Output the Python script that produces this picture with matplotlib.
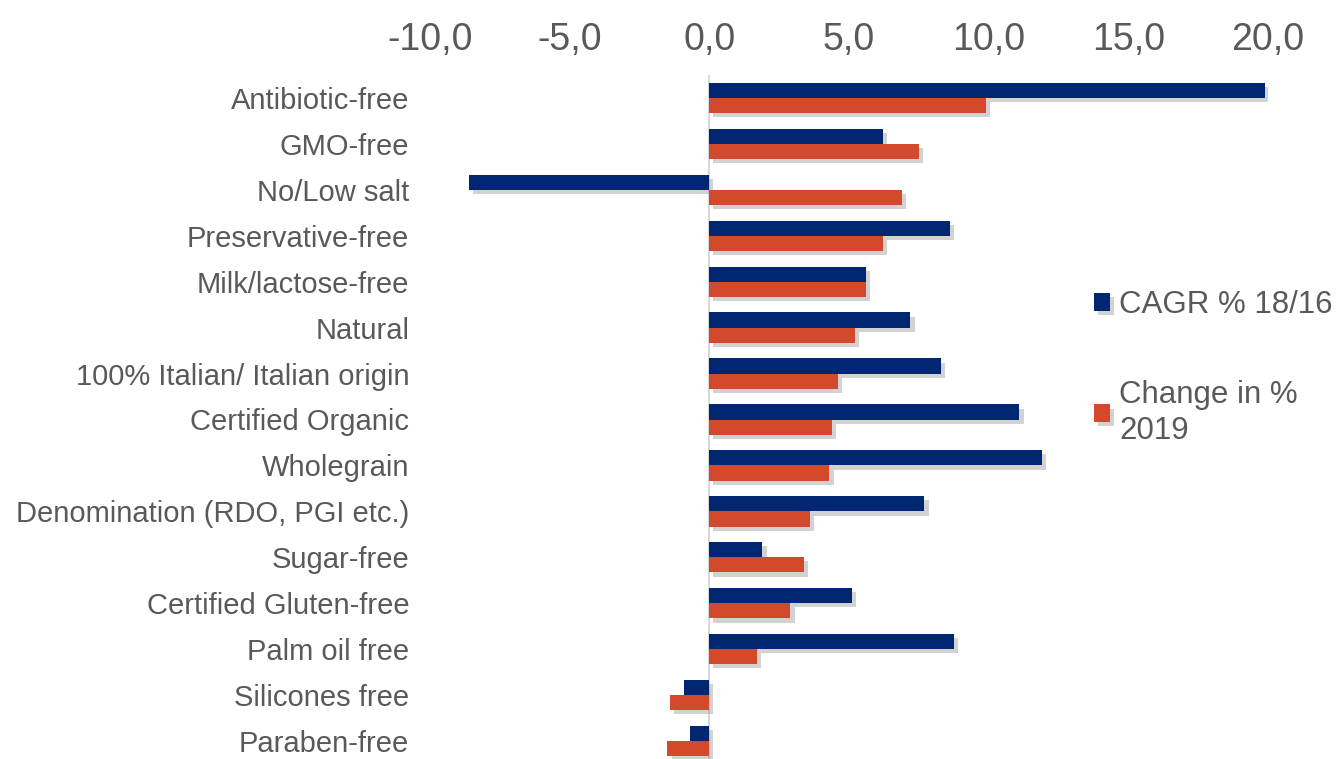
import numpy as np
import matplotlib.pyplot as plt
import matplotlib.patheffects as pe
from matplotlib.ticker import FuncFormatter

categories = ['Antibiotic-free', 'GMO-free', 'No/Low salt', 'Preservative-free',
              'Milk/lactose-free', 'Natural', '100% Italian/ Italian origin',
              'Certified Organic', 'Wholegrain', 'Denomination (RDO, PGI etc.)',
              'Sugar-free', 'Certified Gluten-free', 'Palm oil free',
              'Silicones free', 'Paraben-free']
cagr = [19.9, 6.2, -8.6, 8.6, 5.6, 7.2, 8.3, 11.1, 11.9, 7.7, 1.9, 5.1, 8.75, -0.9, -0.7]
change = [9.9, 7.5, 6.9, 6.2, 5.6, 5.2, 4.6, 4.4, 4.3, 3.6, 3.4, 2.9, 1.7, -1.4, -1.5]
xticks = [-10, -5, 0, 5, 10, 15, 20]

navy = '#002672'
red = '#D24A2B'
grey = '#595959'

fig = plt.figure(figsize=(13.37, 7.59), dpi=100)
ax = fig.add_axes([430 / 1337, -5 / 759, 838 / 1337, 689 / 759])

y = np.arange(len(categories))
h = 0.33
shadow = [pe.SimplePatchShadow(offset=(3, -3), shadow_rgbFace='#909090', alpha=0.4), pe.Normal()]
b1 = ax.barh(y - h / 2, cagr, height=h, color=navy, label='CAGR % 18/16', zorder=3)
b2 = ax.barh(y + h / 2, change, height=h, color=red, label='Change in %\n2019', zorder=3)
for b in list(b1) + list(b2):
    b.set_path_effects(shadow)

ax.axvline(0, color='#d9d9d9', lw=1.5, zorder=2)
ax.set_xlim(-10, 20)
ax.set_ylim(len(categories) - 0.5, -0.5)
ax.set_yticks(y)
ax.set_yticklabels(categories, fontsize=21, color=grey, family=['Liberation Sans', 'DejaVu Sans'])
ax.set_xticks(xticks)
ax.xaxis.set_major_formatter(FuncFormatter(lambda v, p: f'{v:.1f}'.replace('.', ',')))
ax.xaxis.tick_top()
for lab in ax.get_xticklabels():
    lab.set_fontsize(27)
    lab.set_color(grey)
    lab.set_family(['Liberation Sans Narrow', 'Liberation Sans', 'DejaVu Sans'])
ax.tick_params(length=0, axis='both')
ax.tick_params(axis='x', pad=12)
ax.tick_params(axis='y', pad=15)
for s in ax.spines.values():
    s.set_visible(False)

leg = fig.legend(loc='upper left', bbox_to_anchor=(1066 / 1337, 1 - 262 / 759),
                 frameon=False, handlelength=0.5, handleheight=0.5, handletextpad=0.3,
                 labelspacing=1.9, prop={'family': ['Liberation Sans', 'DejaVu Sans'], 'size': 22.5})
for t in leg.get_texts():
    t.set_color(grey)
    t.set_linespacing(1.3)

fig.savefig('out.png', dpi=100)
